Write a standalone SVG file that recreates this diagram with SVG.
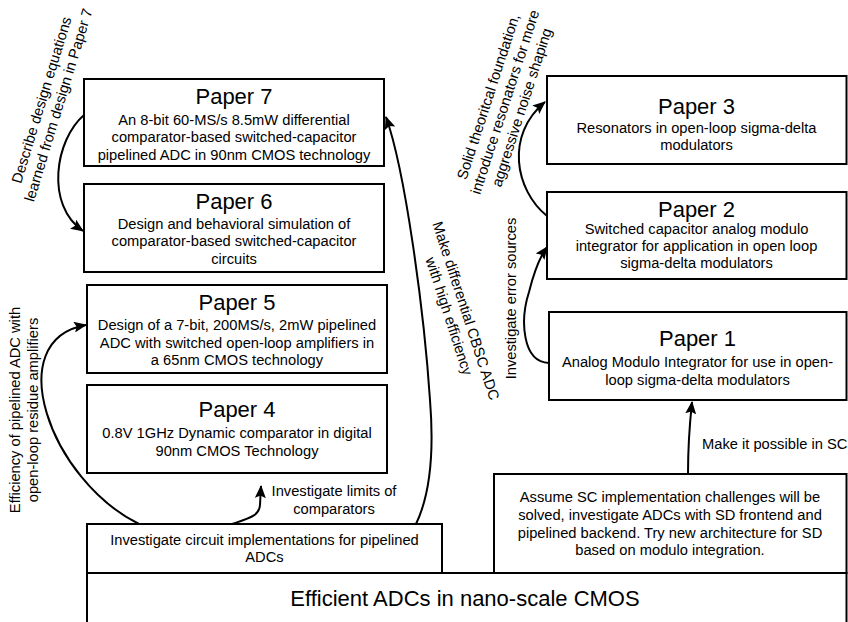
<svg xmlns="http://www.w3.org/2000/svg" width="848" height="622" viewBox="0 0 848 622">
  <style>
    .box { fill: #ffffff; stroke: #000000; stroke-width: 2; }
    .t { font-family: "Liberation Sans", Arial, sans-serif; font-size: 14.7px; fill: #000000; text-anchor: middle; }
    .h { font-family: "Liberation Sans", Arial, sans-serif; font-size: 22px; fill: #000000; text-anchor: middle; }
    .l { font-family: "Liberation Sans", Arial, sans-serif; font-size: 14.7px; fill: #000000; }
    .c { fill: none; stroke: #000000; stroke-width: 2; marker-end: url(#ah); }
  </style>
  <defs>
    <marker id="ah" viewBox="0 0 13 11" refX="12" refY="5.5" markerWidth="13" markerHeight="11" markerUnits="userSpaceOnUse" orient="auto">
      <path d="M0,0 L13,5.5 L0,11 L2.5,5.5 z" fill="#000000"/>
    </marker>
  </defs>
  <rect width="848" height="622" fill="#ffffff"/>

  <!-- foundation -->
  <g id="base">
    <rect class="box" x="87" y="573" width="759.5" height="70"/>
    <text class="h" x="465" y="606">Efficient ADCs in nano-scale CMOS</text>
  </g>

  <g id="pipelined-track">
    <rect class="box" x="87" y="524" width="355" height="49"/>
    <text class="t" x="264.5" y="544.5">Investigate circuit implementations for pipelined</text>
    <text class="t" x="264.5" y="562">ADCs</text>
  </g>

  <g id="sd-track">
    <rect class="box" x="494" y="474" width="352.5" height="99"/>
    <text class="t" x="670" y="501.5">Assume SC implementation challenges will be</text>
    <text class="t" x="670" y="519.5">solved, investigate ADCs with SD frontend and</text>
    <text class="t" x="670" y="537.5">pipelined backend. Try new architecture for SD</text>
    <text class="t" x="670" y="555">based on modulo integration.</text>
  </g>

  <!-- left column -->
  <g id="paper7">
    <rect class="box" x="84" y="79" width="300" height="87"/>
    <text class="h" x="234" y="104">Paper 7</text>
    <text class="t" x="234" y="124.5">An 8-bit 60-MS/s 8.5mW differential</text>
    <text class="t" x="234" y="142">comparator-based switched-capacitor</text>
    <text class="t" x="234" y="159.5">pipelined ADC in 90nm CMOS technology</text>
  </g>

  <g id="paper6">
    <rect class="box" x="84" y="184" width="300" height="88"/>
    <text class="h" x="234" y="208.5">Paper 6</text>
    <text class="t" x="234" y="228.5">Design and behavioral simulation of</text>
    <text class="t" x="234" y="246">comparator-based switched-capacitor</text>
    <text class="t" x="234" y="263.5">circuits</text>
  </g>

  <g id="paper5">
    <rect class="box" x="87" y="285" width="300" height="88"/>
    <text class="h" x="237" y="309.5">Paper 5</text>
    <text class="t" x="237" y="330">Design of a 7-bit, 200MS/s, 2mW pipelined</text>
    <text class="t" x="237" y="347.5">ADC with switched open-loop amplifiers in</text>
    <text class="t" x="237" y="365">a 65nm CMOS technology</text>
  </g>

  <g id="paper4">
    <rect class="box" x="87" y="385" width="300" height="88"/>
    <text class="h" x="237" y="416.5">Paper 4</text>
    <text class="t" x="237" y="438">0.8V 1GHz Dynamic comparator in digital</text>
    <text class="t" x="237" y="456">90nm CMOS Technology</text>
  </g>

  <!-- right column -->
  <g id="paper3">
    <rect class="box" x="547" y="76" width="299.5" height="88"/>
    <text class="h" x="696.5" y="114">Paper 3</text>
    <text class="t" x="696.5" y="133">Resonators in open-loop sigma-delta</text>
    <text class="t" x="696.5" y="150">modulators</text>
  </g>

  <g id="paper2">
    <rect class="box" x="547" y="192" width="299.5" height="87"/>
    <text class="h" x="696.5" y="217">Paper 2</text>
    <text class="t" x="696.5" y="234">Switched capacitor analog modulo</text>
    <text class="t" x="696.5" y="251">integrator for application in open loop</text>
    <text class="t" x="696.5" y="268">sigma-delta modulators</text>
  </g>

  <g id="paper1">
    <rect class="box" x="549" y="312" width="297.5" height="88"/>
    <text class="h" x="697.5" y="346">Paper 1</text>
    <text class="t" x="697.5" y="367">Analog Modulo Integrator for use in open-</text>
    <text class="t" x="697.5" y="384.5">loop sigma-delta modulators</text>
  </g>

  <!-- connectors and their labels -->
  <g id="connectors">
    <path class="c" d="M84,115 C55,140 45,205 83,231"/>
    <path class="c" d="M139,524 C50,480 0,340 86,325"/>
    <path class="c" d="M232,524 C250,518 259,516 260,505 L261,486"/>
    <path class="c" d="M416,524 C430,495 434,450 430,400 C424,310 405,170 386,117"/>
    <path class="c" d="M549,363 C522,362 520,320 529,292 C534,272 539,258 547,247"/>
    <path class="c" d="M547,216 C515,190 505,135 545,102"/>
    <path class="c" d="M688,474 C688,450 689,430 692,402"/>

    <g transform="translate(50,102.5) rotate(-73)">
      <text class="t" x="0" y="-3.8">Describe design equations</text>
      <text class="t" x="0" y="13.8">learned from design in Paper 7</text>
    </g>
    <g transform="translate(505,102) rotate(-72)">
      <text class="t" x="0" y="-12.6">Solid theoritcal foundation,</text>
      <text class="t" x="0" y="5">introduce resonators for more</text>
      <text class="t" x="0" y="22.6">aggressive noise shaping</text>
    </g>
    <g transform="translate(457.5,313.5) rotate(72)">
      <text class="t" x="0" y="-3.8">Make differential CBSC ADC</text>
      <text class="t" x="0" y="13.8">with high efficiency</text>
    </g>
    <g transform="translate(510.5,298.5) rotate(-90)">
      <text class="t" x="0" y="5">Investigate error sources</text>
    </g>
    <g transform="translate(24,410) rotate(-90)">
      <text class="t" x="0" y="-3.8">Efficiency of pipelined ADC with</text>
      <text class="t" x="0" y="13.8">open-loop residue amplifiers</text>
    </g>
    <text class="t" x="334" y="496">Investigate limits of</text>
    <text class="t" x="334" y="513.5">comparators</text>
    <text class="l" x="702" y="449">Make it possible in SC</text>
  </g>
</svg>
